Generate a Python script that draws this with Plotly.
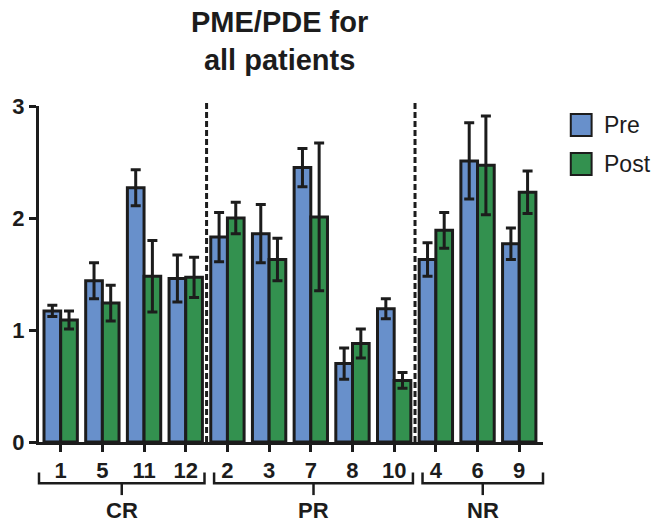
import plotly.graph_objects as go

# ---- data ----
patients = ["1", "5", "11", "12", "2", "3", "7", "8", "10", "4", "6", "9"]
pre_vals = [1.17, 1.44, 2.27, 1.46, 1.83, 1.86, 2.45, 0.70, 1.19, 1.63, 2.51, 1.77]
pre_err = [0.05, 0.16, 0.16, 0.21, 0.22, 0.26, 0.17, 0.14, 0.09, 0.15, 0.34, 0.14]
post_vals = [1.09, 1.24, 1.48, 1.47, 2.00, 1.63, 2.01, 0.88, 0.55, 1.89, 2.47, 2.23]
post_err = [0.08, 0.16, 0.32, 0.18, 0.14, 0.19, 0.66, 0.13, 0.07, 0.16, 0.44, 0.19]
groups = ["CR", "PR", "NR"]
group_start = [0, 4, 9]   # index of first patient in each group
group_end = [3, 8, 11]    # index of last patient
series_names = ["Pre", "Post"]

BLUE = "#6890cb"
GREEN = "#33914f"
DARK = "#1c1c1c"
FONT = "Liberation Sans, Arial, sans-serif"

x_idx = list(range(len(patients)))
XMIN, XMAX = -0.52, 11.57

fig = go.Figure()
for name, vals, errs, col in [(series_names[0], pre_vals, pre_err, BLUE),
                              (series_names[1], post_vals, post_err, GREEN)]:
    fig.add_trace(go.Bar(
        x=x_idx, y=vals, name=name,
        marker=dict(color=col, line=dict(color=DARK, width=3)),
        error_y=dict(type="data", array=errs, visible=True,
                     color=DARK, thickness=3, width=5),
        showlegend=False,
    ))

def px(c):
    return (c - XMIN) / (XMAX - XMIN)

shapes = []
# dashed separators between groups
for g in range(1, len(groups)):
    xc = (group_end[g - 1] + group_start[g]) / 2
    shapes.append(dict(type="line", xref="x", yref="paper", x0=xc, x1=xc,
                       y0=0, y1=1.01, line=dict(color=DARK, width=3, dash="6px,3px")))

# brackets under groups
y_top, y_mid, y_bot = -0.091, -0.123, -0.158
for g, label in enumerate(groups):
    left = XMIN if g == 0 else group_start[g] - 0.32
    right = XMAX if g == len(groups) - 1 else group_end[g] + 0.45
    xl, xr = px(left), px(right)
    path = f"M {xl},{y_top} L {xl},{y_mid} L {xr},{y_mid} L {xr},{y_top}"
    shapes.append(dict(type="path", xref="paper", yref="paper", path=path,
                       line=dict(color=DARK, width=2.5)))
    xm = (xl + xr) / 2
    shapes.append(dict(type="line", xref="paper", yref="paper", x0=xm, x1=xm,
                       y0=y_mid, y1=y_bot, line=dict(color=DARK, width=2.5)))
    fig.add_annotation(x=xm, y=-0.205, xref="paper", yref="paper", text=label,
                       showarrow=False, yanchor="middle", xanchor="center",
                       font=dict(family=FONT, size=22, color=DARK, weight="bold"))

# manual legend
PW, PH = 508.0, 336.0
def lx(p):
    return (p - 35) / PW
def ly(p):
    return (442 - p) / PH
for i, (name, col) in enumerate(zip(series_names, [BLUE, GREEN])):
    top = 114 + i * 39
    shapes.append(dict(type="rect", xref="paper", yref="paper",
                       x0=lx(571), x1=lx(592), y0=ly(top + 22), y1=ly(top),
                       fillcolor=col, line=dict(color=DARK, width=2)))
    fig.add_annotation(x=lx(602), y=ly(top + 11), xref="paper", yref="paper",
                       text=name, showarrow=False, xanchor="left", yanchor="middle",
                       font=dict(family=FONT, size=23, color=DARK))

# title
fig.add_annotation(x=lx(277), y=ly(41), xref="paper", yref="paper",
                   text="<b>PME/PDE for<br>all patients</b>", showarrow=False,
                   xanchor="center", yanchor="middle",
                   font=dict(family=FONT, size=29, color=DARK))

fig.update_layout(
    width=654, height=525,
    margin=dict(l=35, r=111, t=106, b=83, pad=0),
    paper_bgcolor="white", plot_bgcolor="white",
    barmode="group", bargap=0.2, bargroupgap=0,
    shapes=shapes,
    xaxis=dict(range=[XMIN, XMAX], tickmode="array", tickvals=x_idx, ticktext=patients,
               showgrid=False, zeroline=False, showline=True, linecolor=DARK, linewidth=3,
               ticks="outside", ticklen=7, tickwidth=3, tickcolor=DARK,
               tickfont=dict(family=FONT, size=22, color=DARK, weight="bold")),
    yaxis=dict(range=[0, 3], tickvals=[0, 1, 2, 3], showgrid=False, zeroline=False,
               showline=True, linecolor=DARK, linewidth=3,
               ticks="outside", ticklen=7, tickwidth=3, tickcolor=DARK,
               tickfont=dict(family=FONT, size=22, color=DARK, weight="bold")),
)

fig.write_html("out.html", config={"displayModeBar": False},
               post_script="document.body.style.margin='0';")
